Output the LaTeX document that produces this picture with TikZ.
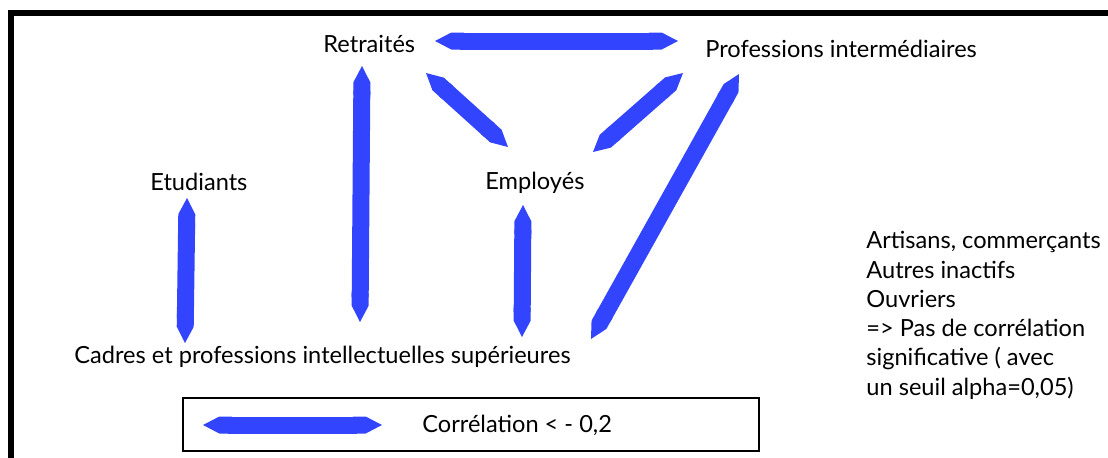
\documentclass[tikz,border=0pt]{standalone}
\usepackage{fontspec}
\setmainfont{Lato}
\usepackage{tikz}
\usetikzlibrary{arrows.meta,positioning}
\usepackage{xcolor}
\definecolor{cblue}{RGB}{51,68,255}

\begin{document}
\begin{tikzpicture}[
    x=0.5pt, y=-0.5pt,
    category/.style={inner sep=0pt, anchor=base west, font=\fontsize{11.8}{14.65}\selectfont},
    corr/.style={cblue, line width=8.5pt, {Triangle Cap[cap angle=55]}-{Triangle Cap[cap angle=55]}},
    legendbox/.style={draw, line width=0.8pt}
]
\useasboundingbox (0,0) rectangle (1108,457);

% Frame (top and left side only)
\draw[line width=3pt] (11,480) -- (11,13) -- (1130,13);

% Categories
\node[category] (ret) at (323, 52) {Retraités};
\node[category] (prof) at (705, 57) {Professions intermédiaires};
\node[category] (etu) at (150, 190) {Etudiants};
\node[category] (emp) at (485, 189) {Employés};
\node[category] (cadres) at (74, 363) {Cadres et professions intellectuelles supérieures};

% Bar ends
\coordinate (ret-e) at (435, 41);   \coordinate (prof-w) at (678, 41);
\coordinate (ret-se) at (426, 73);  \coordinate (emp-nw) at (508, 147);
\coordinate (prof-sw) at (683, 73); \coordinate (emp-ne) at (593, 152);
\coordinate (ret-s) at (362, 66);   \coordinate (cadres-n1) at (360, 322);
\coordinate (etu-s) at (187, 198);  \coordinate (cadres-n2) at (185, 343);
\coordinate (emp-s) at (523, 205);  \coordinate (cadres-n3) at (522, 337);
\coordinate (prof-s) at (739, 74);  \coordinate (cadres-n4) at (591, 339);

% Correlations
\draw[corr] (ret-e) -- (prof-w);
\draw[corr] (ret-se) -- (emp-nw);
\draw[corr] (prof-sw) -- (emp-ne);
\draw[corr] (ret-s) -- (cadres-n1);
\draw[corr] (etu-s) -- (cadres-n2);
\draw[corr] (emp-s) -- (cadres-n3);
\draw[corr] (prof-s) -- (cadres-n4);

% Not significant
\node[category, anchor=north west, align=left] (other) at (866, 231)
  {Artisans, commerçants\\Autres inactifs\\Ouvriers\\=> Pas de corrélation\\significative ( avec\\un seuil alpha=0,05)};

% Legend
\draw[legendbox] (183, 398) rectangle (759, 451);
\coordinate (leg-w) at (203, 425); \coordinate (leg-e) at (382, 425);
\draw[corr] (leg-w) -- (leg-e);
\node[category] (legtext) at (422, 432) {Corrélation < - 0,2};

\end{tikzpicture}
\end{document}
